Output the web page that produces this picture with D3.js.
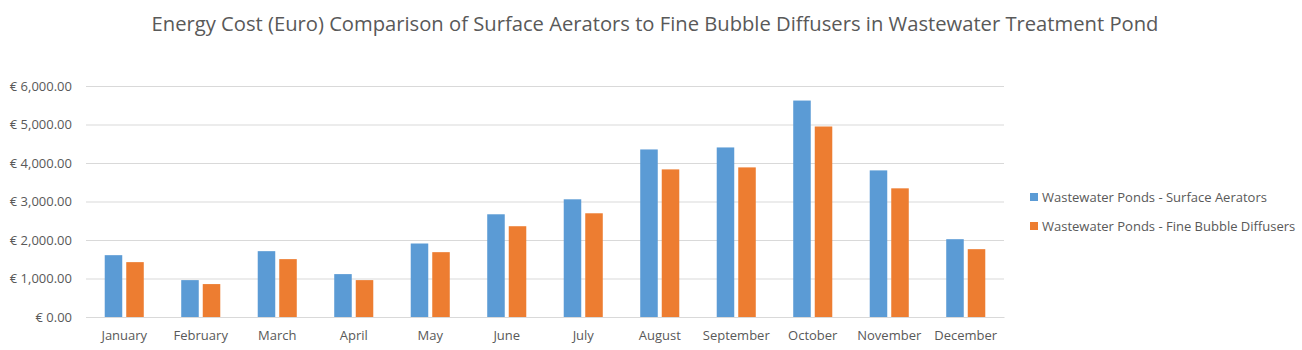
<!DOCTYPE html>
<html>
<head>
<meta charset="utf-8">
<script src="https://cdn.jsdelivr.net/npm/d3@7"></script>
<style>
  body { margin: 0; background: #fff; }
  text { font-family: "Open Sans", "Noto Sans", sans-serif; fill: #595959; }
</style>
</head>
<body>
<div id="chart"></div>
<script>
var months = ["January", "February", "March", "April", "May", "June", "July",
    "August", "September", "October", "November", "December"];
var seriesNames = ["Wastewater Ponds - Surface Aerators", "Wastewater Ponds - Fine Bubble Diffusers"];
var surfaceAerators = [1606, 958, 1710, 1114, 1909, 2668, 3057, 4352, 4404, 5622, 3808, 2021];
var fineBubble = [1425, 855, 1503, 958, 1684, 2358, 2694, 3834, 3886, 4948, 3342, 1762];
var yTicks = [0, 1000, 2000, 3000, 4000, 5000, 6000];
var colors = ["#5B9BD5", "#ED7D31"];

function init() {
    const width = 1302;
    const height = 350;
    const left = 86, right = 1004, top = 86, bottom = 317;

    var data = months.map((m, i) => ({ month: m, values: [surfaceAerators[i], fineBubble[i]] }));

    var svg = d3.select("#chart")
        .append("svg")
        .attr("width", width)
        .attr("height", height);

    // scales
    var x0 = d3.scaleBand()
        .domain(months)
        .range([left, right])
        .padding(0);

    var x1 = d3.scaleBand()
        .domain(d3.range(seriesNames.length))
        .range([0, x0.bandwidth()])
        .paddingInner(0.186)
        .paddingOuter(0.87);

    var y = d3.scaleLinear()
        .domain([0, 6000])
        .range([bottom, top]);

    // title
    svg.append("text")
        .attr("x", 655)
        .attr("y", 31)
        .attr("text-anchor", "middle")
        .style("font-size", "20.2px")
        .text("Energy Cost (Euro) Comparison of Surface Aerators to Fine Bubble Diffusers in Wastewater Treatment Pond");

    // gridlines + y labels
    var yAxis = svg.append("g")
        .attr("transform", `translate(${left},0)`)
        .call(d3.axisLeft(y)
            .tickValues(yTicks)
            .tickSize(-(right - left))
            .tickPadding(14)
            .tickFormat(d => "€ " + d3.format(",.2f")(d)));
    yAxis.select(".domain").remove();
    yAxis.selectAll(".tick line").attr("stroke", "#D9D9D9");
    yAxis.selectAll(".tick text").style("font-size", "13px");

    // bars
    var groups = svg.selectAll("g.month")
        .data(data)
        .enter()
        .append("g")
        .attr("class", "month")
        .attr("transform", d => `translate(${x0(d.month)},0)`);

    groups.selectAll("rect")
        .data(d => d.values)
        .enter()
        .append("rect")
        .attr("x", (d, i) => x1(i))
        .attr("y", d => y(d))
        .attr("width", x1.bandwidth())
        .attr("height", d => y(0) - y(d))
        .attr("fill", (d, i) => colors[i]);

    // x axis
    var xAxis = svg.append("g")
        .attr("transform", `translate(0,${bottom})`)
        .call(d3.axisBottom(x0).tickSize(0).tickPadding(14));
    xAxis.select(".domain").attr("stroke", "#D9D9D9");
    xAxis.selectAll(".tick text").style("font-size", "13px");

    // legend
    var legend = svg.append("g")
        .attr("transform", "translate(1030,197)");
    var items = legend.selectAll("g")
        .data(seriesNames)
        .enter()
        .append("g")
        .attr("transform", (d, i) => `translate(0,${i * 29})`);
    items.append("rect")
        .attr("x", 0)
        .attr("y", -4)
        .attr("width", 8)
        .attr("height", 8)
        .attr("fill", (d, i) => colors[i]);
    items.append("text")
        .attr("x", 12)
        .attr("y", 4.5)
        .style("font-size", "13px")
        .text(d => d);
}

init();
</script>
</body>
</html>
